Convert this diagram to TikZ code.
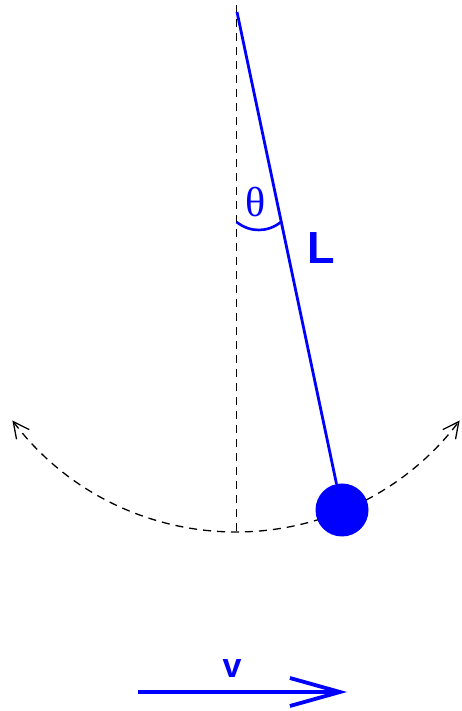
\documentclass[tikz,border=0pt]{standalone}
\usepackage{fontspec}
\setmainfont{Liberation Serif}
\newfontfamily\labelfont{Liberation Sans}
\usetikzlibrary{arrows.meta}
\definecolor{cRod}{HTML}{0000FF}
\definecolor{ink}{HTML}{000000}

\begin{document}
\begin{tikzpicture}[
  x=1pt, y=1pt,
  rod/.style={draw=cRod, line width=2.8pt},
  guide/.style={draw=ink, line width=1.3pt, dash pattern=on 8pt off 6pt},
  bobstyle/.style={circle, fill=cRod, inner sep=0pt, minimum size=53pt},
  swing/.style={{Straight Barb[length=16pt, width=16pt, line width=1.3pt]}-{Straight Barb[length=16pt, width=16pt, line width=1.3pt]}},
  lbl/.style={text=cRod, inner sep=0pt},
]
  \useasboundingbox (0,0) rectangle (462,711);

  % --- pivot and vertical ---
  \coordinate (pivot) at (237,699);
  \coordinate (vtop) at (236.5,706);
  \coordinate (vlow) at (236.5,179);
  \draw[guide] (vtop) -- (vlow);

  % --- swing path ---
  \coordinate (swingL) at (12.4,290.5);
  \draw[guide, swing] (swingL)
    arc[start angle=217, end angle=323, radius=280];

  % --- bob and rod ---
  \node[bobstyle] (bob) at (342,201) {};
  \draw[rod] (pivot) -- (bob);

  % --- angle mark ---
  \coordinate (angA) at (236.5,489);
  \coordinate (angB) at (281,489);
  \draw[rod, line width=2.6pt] (angA) to[bend right=38] (angB);
  \node[lbl, font=\fontsize{42}{48}\selectfont] (theta) at (256,509) {θ};
  \node[lbl, font=\labelfont\bfseries\fontsize{45}{52}\selectfont] (len) at (321,463) {L};

  % --- velocity ---
  \coordinate (vstart) at (138,19);
  \coordinate (vend) at (347,19);
  \draw[rod, line width=3.8pt, -{Straight Barb[length=50pt, width=28pt]}] (vstart) -- (vend);
  \node[lbl, font=\labelfont\bfseries\fontsize{34}{40}\selectfont] (vel) at (232,42) {v};
\end{tikzpicture}
\end{document}
